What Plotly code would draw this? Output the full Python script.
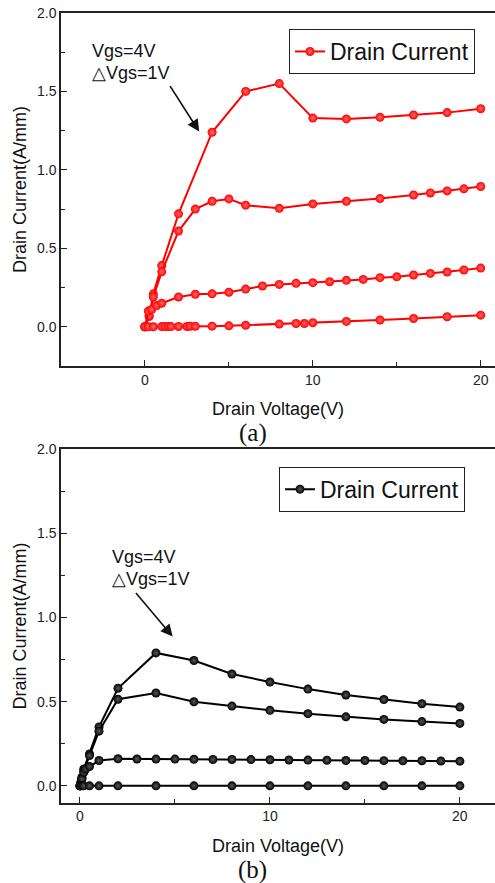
import plotly.graph_objects as go

# ---------------- data: panel (a) ----------------
a1_x = [0, 0.25, 0.5, 1, 2, 4, 6, 8, 10, 12, 14, 16, 18, 20]
a1_y = [0, 0.065, 0.21, 0.39, 0.72, 1.24, 1.50, 1.55, 1.33, 1.325, 1.335, 1.35, 1.365, 1.39]
a2_x = [0, 0.25, 0.5, 1, 2, 3, 4, 5, 6, 8, 10, 12, 14, 16, 17, 18, 19, 20]
a2_y = [0, 0.07, 0.19, 0.35, 0.61, 0.75, 0.80, 0.815, 0.775, 0.755, 0.783, 0.80, 0.817,
        0.84, 0.853, 0.866, 0.879, 0.894]
a3_x = [0, 0.2, 0.4, 0.7, 1, 2, 3, 4, 5, 6, 7, 8, 9, 10, 11, 12, 13, 14, 15, 16, 17, 18, 19, 20]
a3_y = [0, 0.1, 0.11, 0.135, 0.15, 0.19, 0.207, 0.21, 0.22, 0.24, 0.26, 0.27, 0.277, 0.281,
        0.287, 0.296, 0.302, 0.313, 0.319, 0.33, 0.34, 0.349, 0.362, 0.374]
a4_x = [0, 0.2, 0.5, 1, 1.2, 1.4, 1.55, 2, 2.5, 2.7, 3, 4, 5, 6, 8, 9, 9.5, 10, 12, 14, 16, 18, 20]
a4_y = [0, 0, 0, 0.001, 0.001, 0.001, 0.001, 0.002, 0.002, 0.003, 0.003, 0.004, 0.006, 0.01,
        0.017, 0.021, 0.021, 0.026, 0.034, 0.043, 0.053, 0.064, 0.074]

# ---------------- data: panel (b) ----------------
b1_x = [0, 0.05, 0.1, 0.2, 0.5, 1, 2, 4, 6, 8, 10, 12, 14, 16, 18, 20]
b1_y = [0, 0.02, 0.05, 0.1, 0.19, 0.35, 0.58, 0.79, 0.745, 0.665, 0.617, 0.575, 0.54, 0.513, 0.488, 0.468]
b2_x = [0, 0.05, 0.1, 0.2, 0.5, 1, 2, 4, 6, 8, 10, 12, 14, 16, 18, 20]
b2_y = [0, 0.02, 0.045, 0.09, 0.18, 0.325, 0.515, 0.552, 0.5, 0.474, 0.449, 0.429, 0.41, 0.395, 0.382, 0.371]
b3_x = [0, 0.1, 0.2, 0.3, 0.5, 1, 2, 3, 4, 5, 6, 7, 8, 9, 10, 11, 12, 13, 14, 15, 16, 17, 18, 19, 20]
b3_y = [0, 0.04, 0.08, 0.1, 0.115, 0.151, 0.161, 0.16, 0.159, 0.159, 0.158, 0.157, 0.157, 0.156,
        0.155, 0.154, 0.153, 0.152, 0.151, 0.151, 0.15, 0.149, 0.149, 0.148, 0.147]
b4_x = [0, 0.1, 0.2, 0.5, 1, 2, 4, 6, 8, 10, 12, 14, 16, 18, 20]
b4_y = [0, 0, 0, 0, 0, 0, 0, 0, 0, 0, 0, 0, 0, 0, 0]

series_name = "Drain Current"
x_title = "Drain Voltage(V)"
y_title = "Drain Current(A/mm)"
note_1 = "Vgs=4V"
note_2 = "△Vgs=1V"
ytick_vals = [0.0, 0.5, 1.0, 1.5, 2.0]
ytick_text = ["0.0", "0.5", "1.0", "1.5", "2.0"]
xtick_vals = [0, 10, 20]

FONT = "Liberation Sans, Arial, sans-serif"
RED = "#ff0000"
BLK = "#000000"

fig = go.Figure()


def add_curves(xs_list, ys_list, color, grad, xa, ya, legend):
    for i, (xs, ys) in enumerate(zip(xs_list, ys_list)):
        fig.add_trace(go.Scatter(
            x=xs, y=ys, mode="lines+markers", name=series_name,
            showlegend=(i == 0), legend=legend, xaxis=xa, yaxis=ya,
            line=dict(color=color, width=2),
            marker=dict(symbol="circle", size=9, color=color,
                        gradient=dict(type="radial", color=grad),
                        line=dict(width=0)),
        ))


add_curves([a1_x, a2_x, a3_x, a4_x], [a1_y, a2_y, a3_y, a4_y], RED, "#ff7070", "x", "y", "legend")
add_curves([b1_x, b2_x, b3_x, b4_x], [b1_y, b2_y, b3_y, b4_y], BLK, "#5a5a5a", "x2", "y2", "legend2")

W, H = 495, 883
xdom = [61 / W, 1.0]
ydom_a = [1 - 366 / H, 1 - 13 / H]
ydom_b = [1 - 802.7 / H, 1 - 449.3 / H]

axis_common = dict(
    showline=True, linecolor="#222", linewidth=1.5, showgrid=False, zeroline=False,
    ticks="inside", ticklen=6, tickwidth=1.3, tickcolor="#222", automargin=False,
    tickfont=dict(family=FONT, size=14, color="#222"),
)
xcommon = dict(axis_common, mirror=True, tickvals=xtick_vals, ticklabelstandoff=0,
               minor=dict(ticks="inside", ticklen=4, dtick=5, tick0=0, tickcolor="#222"),
               title=dict(text=x_title, font=dict(family=FONT, size=18, color="#111"), standoff=16))
ycommon = dict(axis_common, mirror=False, tickvals=ytick_vals, ticktext=ytick_text, ticklabelstandoff=0,
               minor=dict(ticks="inside", ticklen=4, dtick=0.25, tick0=0, tickcolor="#222"),
               title=dict(text=y_title, font=dict(family=FONT, size=18, color="#111"), standoff=6))

fig.update_layout(
    width=W, height=H, margin=dict(l=0, r=0, t=0, b=0, autoexpand=False),
    paper_bgcolor="white", plot_bgcolor="white",
    xaxis=dict(xcommon, domain=xdom, range=[-5, 20.85], anchor="y"),
    yaxis=dict(ycommon, domain=ydom_a, range=[-0.25, 2.0], anchor="x"),
    xaxis2=dict(xcommon, domain=xdom, range=[-1, 21.85], anchor="y2"),
    yaxis2=dict(ycommon, domain=ydom_b, range=[-0.1, 2.0], anchor="x2"),
    legend=dict(x=289 / W, y=1 - 29 / H, xanchor="left", yanchor="top",
                bordercolor="#222", borderwidth=1, bgcolor="white",
                font=dict(family=FONT, size=23, color="#111"), tracegroupgap=0),
    legend2=dict(x=279 / W, y=1 - 466.7 / H, xanchor="left", yanchor="top",
                 bordercolor="#222", borderwidth=1, bgcolor="white",
                 font=dict(family=FONT, size=23, color="#111"), tracegroupgap=0),
    showlegend=True,
)

note_font = dict(family=FONT, size=18, color="#111")
anns = [
    # panel (a) notes
    dict(x=-3.3, y=1.76, xref="x", yref="y", text=note_1, showarrow=False, xanchor="left", yanchor="middle", font=note_font),
    dict(x=-3.3, y=1.62, xref="x", yref="y", text=note_2, showarrow=False, xanchor="left", yanchor="middle", font=note_font),
    dict(x=3.23, y=1.244, xref="x", yref="y", text="", showarrow=True, ax=-30, ay=-47,
         arrowhead=2, arrowsize=1.5, arrowwidth=1.6, arrowcolor="#111"),
    # panel (b) notes
    dict(x=1.58, y=1.36, xref="x2", yref="y2", text=note_1, showarrow=False, xanchor="left", yanchor="middle", font=note_font),
    dict(x=1.58, y=1.228, xref="x2", yref="y2", text=note_2, showarrow=False, xanchor="left", yanchor="middle", font=note_font),
    dict(x=4.88, y=0.887, xref="x2", yref="y2", text="", showarrow=True, ax=-38, ay=-45,
         arrowhead=2, arrowsize=1.5, arrowwidth=1.6, arrowcolor="#111"),
    # panel labels
    dict(x=253 / W, y=1 - 433 / H, xref="paper", yref="paper", text="(a)", showarrow=False,
         xanchor="center", yanchor="middle", font=dict(family="Liberation Serif, Times New Roman, serif", size=25, color="#111")),
    dict(x=253 / W, y=1 - 870 / H, xref="paper", yref="paper", text="(b)", showarrow=False,
         xanchor="center", yanchor="middle", font=dict(family="Liberation Serif, Times New Roman, serif", size=25, color="#111")),
]
fig.update_layout(annotations=anns)

fig.write_html(
    "out.html",
    config={"displayModeBar": False},
    post_script="document.body.style.margin='0';document.body.style.overflow='hidden';",
)
